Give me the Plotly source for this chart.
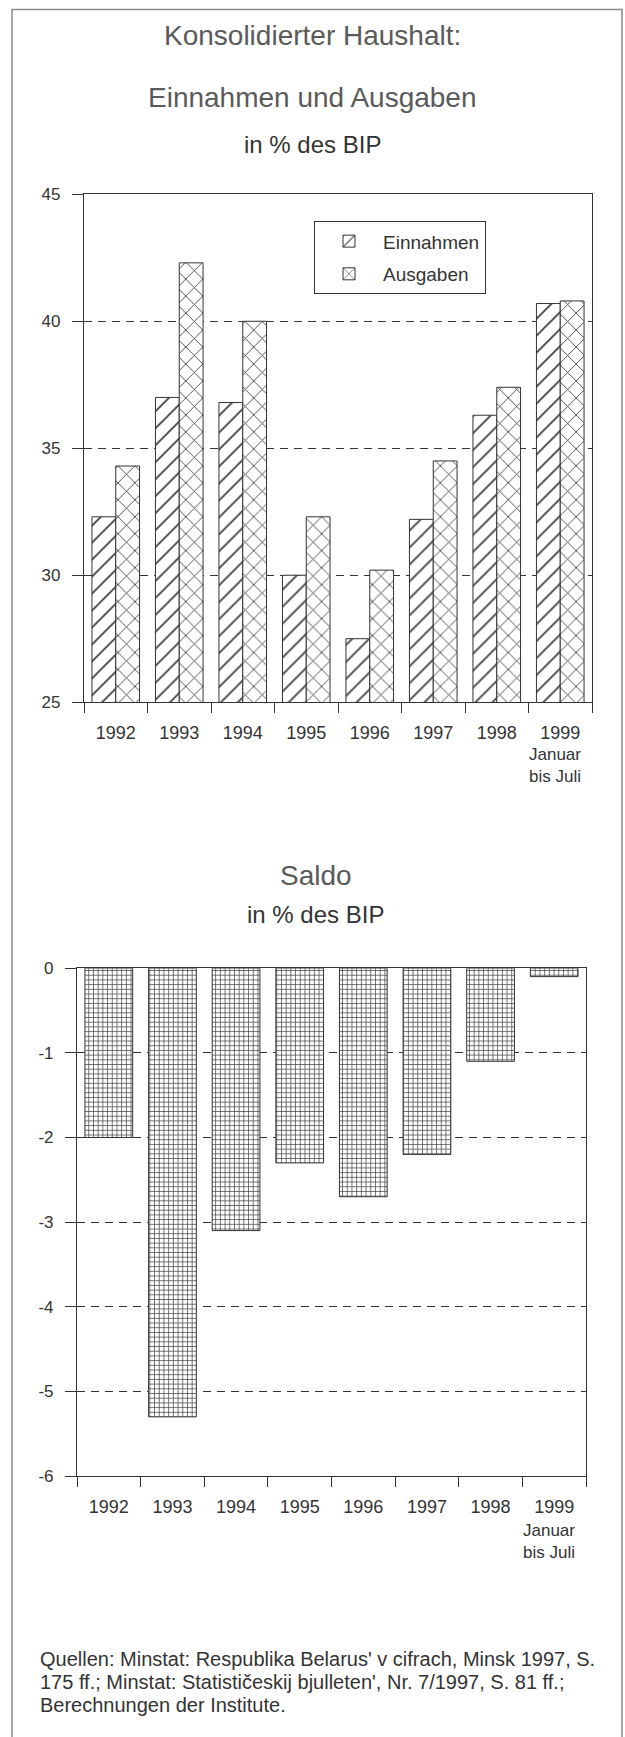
import plotly.graph_objects as go

# ---------------- data ----------------
years = ["1992", "1993", "1994", "1995", "1996", "1997", "1998", "1999"]
einnahmen = [32.3, 37.0, 36.8, 30.0, 27.5, 32.2, 36.3, 40.7]
ausgaben = [34.3, 42.3, 40.0, 32.3, 30.2, 34.5, 37.4, 40.8]
saldo = [-2.0, -5.3, -3.1, -2.3, -2.7, -2.2, -1.1, -0.1]

top_yticks = [25, 30, 35, 40, 45]
bot_yticks = [0, -1, -2, -3, -4, -5, -6]
bot_yticktext = ["0", "-1", "-2", "-3", "-4", "-5", "-6"]

title_top_1 = "Konsolidierter Haushalt:"
title_top_2 = "Einnahmen und Ausgaben"
subtitle = "in % des BIP"
title_bot = "Saldo"
period_note = "Januar<br>bis Juli"
source_lines = [
    "Quellen: Minstat: Respublika Belarus' v cifrach, Minsk 1997, S.",
    "175 ff.; Minstat: Statističeskij bjulleten', Nr. 7/1997, S. 81 ff.;",
    "Berechnungen der Institute.",
]

# ---------------- geometry ----------------
W, H = 625, 1737
FONT = "Liberation Sans, Arial, Helvetica, sans-serif"
LINE = "#333333"
TXT = "#333333"
TITLE = "#5a5a5a"
HATCH = "#3c3c3c"
N = len(years)

# vertical calibration of the capture (observed: shown = 0.9892*y + 8.7)
V_SCALE, V_OFF = 0.9892, 8.7


def px_x(x):
    return x / W


def px_y(y):
    yy = (y - V_OFF) / V_SCALE
    return 1 - yy / H


fig = go.Figure()

fig.add_trace(go.Bar(
    x=years, y=einnahmen, name="Einnahmen", xaxis="x", yaxis="y", legendgroup="e",
    marker=dict(color="white", line=dict(color=LINE, width=1),
                pattern=dict(shape="/", size=12, solidity=0.14,
                             fgcolor=HATCH, bgcolor="white", fillmode="replace")),
))
fig.add_trace(go.Bar(
    x=years, y=ausgaben, name="Ausgaben", xaxis="x", yaxis="y", legendgroup="a",
    marker=dict(color="white", line=dict(color=LINE, width=1),
                pattern=dict(shape="x", size=12, solidity=0.14,
                             fgcolor=HATCH, bgcolor="white", fillmode="replace")),
))
fig.add_trace(go.Bar(
    x=years, y=saldo, name="Saldo", xaxis="x2", yaxis="y2", showlegend=False,
    marker=dict(color="white", line=dict(color=LINE, width=1),
                pattern=dict(shape="+", size=4.7, solidity=0.3,
                             fgcolor="#4a4a4a", bgcolor="white", fillmode="replace")),
))

line_common = dict(showline=True, linecolor=LINE, linewidth=1.2, mirror=True,
                   ticks="outside", tickcolor=LINE, tickwidth=1.2)
xfont = dict(family=FONT, size=18, color=TXT)
yfont = dict(family=FONT, size=17, color=TXT)

fig.update_layout(
    width=W, height=H, autosize=False,
    margin=dict(l=0, r=0, t=0, b=0),
    paper_bgcolor="white", plot_bgcolor="white",
    font=dict(family=FONT, color=TXT),
    barmode="group",
    bargap=0.25, bargroupgap=0,
    showlegend=True,
    legend=dict(x=px_x(314), y=px_y(221), xanchor="left", yanchor="top",
                bordercolor=LINE, borderwidth=1, bgcolor="white",
                font=dict(family=FONT, size=19, color=TXT),
                itemwidth=58, tracegroupgap=5),
    xaxis=dict(domain=[px_x(84), px_x(592)], anchor="y", type="category",
               categoryorder="array", categoryarray=years,
               range=[-0.5, N - 0.5], autorange=False,
               tickson="boundaries", ticklen=10, showgrid=False,
               ticklabelstandoff=14, tickangle=0, tickfont=xfont, **line_common),
    yaxis=dict(domain=[px_y(702), px_y(194)], anchor="x", range=[25, 45],
               tickvals=top_yticks, ticklen=11, ticklabelstandoff=8,
               showgrid=True, gridcolor=LINE, gridwidth=1.1, griddash="8px,6px",
               zeroline=False, tickfont=yfont, **line_common),
    xaxis2=dict(domain=[px_x(77), px_x(586)], anchor="y2", type="category",
                categoryorder="array", categoryarray=years,
                range=[-0.5, N - 0.5], autorange=False,
                tickson="boundaries", ticklen=10, showgrid=False,
                ticklabelstandoff=14, tickangle=0, tickfont=xfont, **line_common),
    yaxis2=dict(domain=[px_y(1476), px_y(968)], anchor="x2", range=[-6, 0],
                tickvals=bot_yticks, ticktext=bot_yticktext, ticklen=11,
                ticklabelstandoff=8,
                showgrid=True, gridcolor=LINE, gridwidth=1.1, griddash="8px,6px",
                zeroline=False, tickfont=yfont, **line_common),
)

ann = []
ann.append(dict(text=title_top_1, x=0.5, y=px_y(35.5), xref="paper", yref="paper",
                xanchor="center", yanchor="middle", showarrow=False,
                font=dict(family=FONT, size=28, color=TITLE)))
ann.append(dict(text=title_top_2, x=0.5, y=px_y(97.5), xref="paper", yref="paper",
                xanchor="center", yanchor="middle", showarrow=False,
                font=dict(family=FONT, size=28, color=TITLE)))
ann.append(dict(text=subtitle, x=0.5, y=px_y(144), xref="paper", yref="paper",
                xanchor="center", yanchor="middle", showarrow=False,
                font=dict(family=FONT, size=24, color=TXT)))
ann.append(dict(text=title_bot, x=px_x(316), y=px_y(875), xref="paper", yref="paper",
                xanchor="center", yanchor="middle", showarrow=False,
                font=dict(family=FONT, size=28, color=TITLE)))
ann.append(dict(text=subtitle, x=px_x(315), y=px_y(914), xref="paper", yref="paper",
                xanchor="center", yanchor="middle", showarrow=False,
                font=dict(family=FONT, size=24, color=TXT)))
ann.append(dict(text=period_note, x=N - 1, xref="x", xshift=23,
                y=px_y(765), yref="paper", xanchor="right", yanchor="middle",
                align="right", showarrow=False,
                font=dict(family=FONT, size=17, color=TXT)))
ann.append(dict(text=period_note, x=N - 1, xref="x2", xshift=23,
                y=px_y(1541.5), yref="paper", xanchor="right", yanchor="middle",
                align="right", showarrow=False,
                font=dict(family=FONT, size=17, color=TXT)))
for line, yy in zip(source_lines, [1659, 1682, 1705]):
    ann.append(dict(text=line, x=px_x(38), y=px_y(yy), xref="paper", yref="paper",
                    xanchor="left", yanchor="middle", showarrow=False,
                    font=dict(family=FONT, size=20, color=TXT)))
fig.update_layout(annotations=ann)

# outer frame of the figure
fig.add_shape(type="path", xref="paper", yref="paper",
              path=f"M {px_x(12)},{-0.01} L {px_x(12)},{0.9997} L {px_x(622)},{0.9997} L {px_x(622)},{-0.01}",
              line=dict(color="#8a8a8a", width=1.5))

# pin the figure to the top-left corner of the page, no margins / scrolling
post = ("var s=document.createElement('style');"
        "s.textContent='html,body{margin:0!important;padding:0!important;"
        "width:625px;height:1737px;overflow:hidden;}';"
        "document.head.appendChild(s);"
        "var d=document.getElementById('{plot_id}');"
        "d.style.position='fixed';d.style.left='0px';d.style.top='0px';"
        "d.style.margin='0';")

fig.write_html("out.html", post_script=post,
               config={"displayModeBar": False, "responsive": False})
